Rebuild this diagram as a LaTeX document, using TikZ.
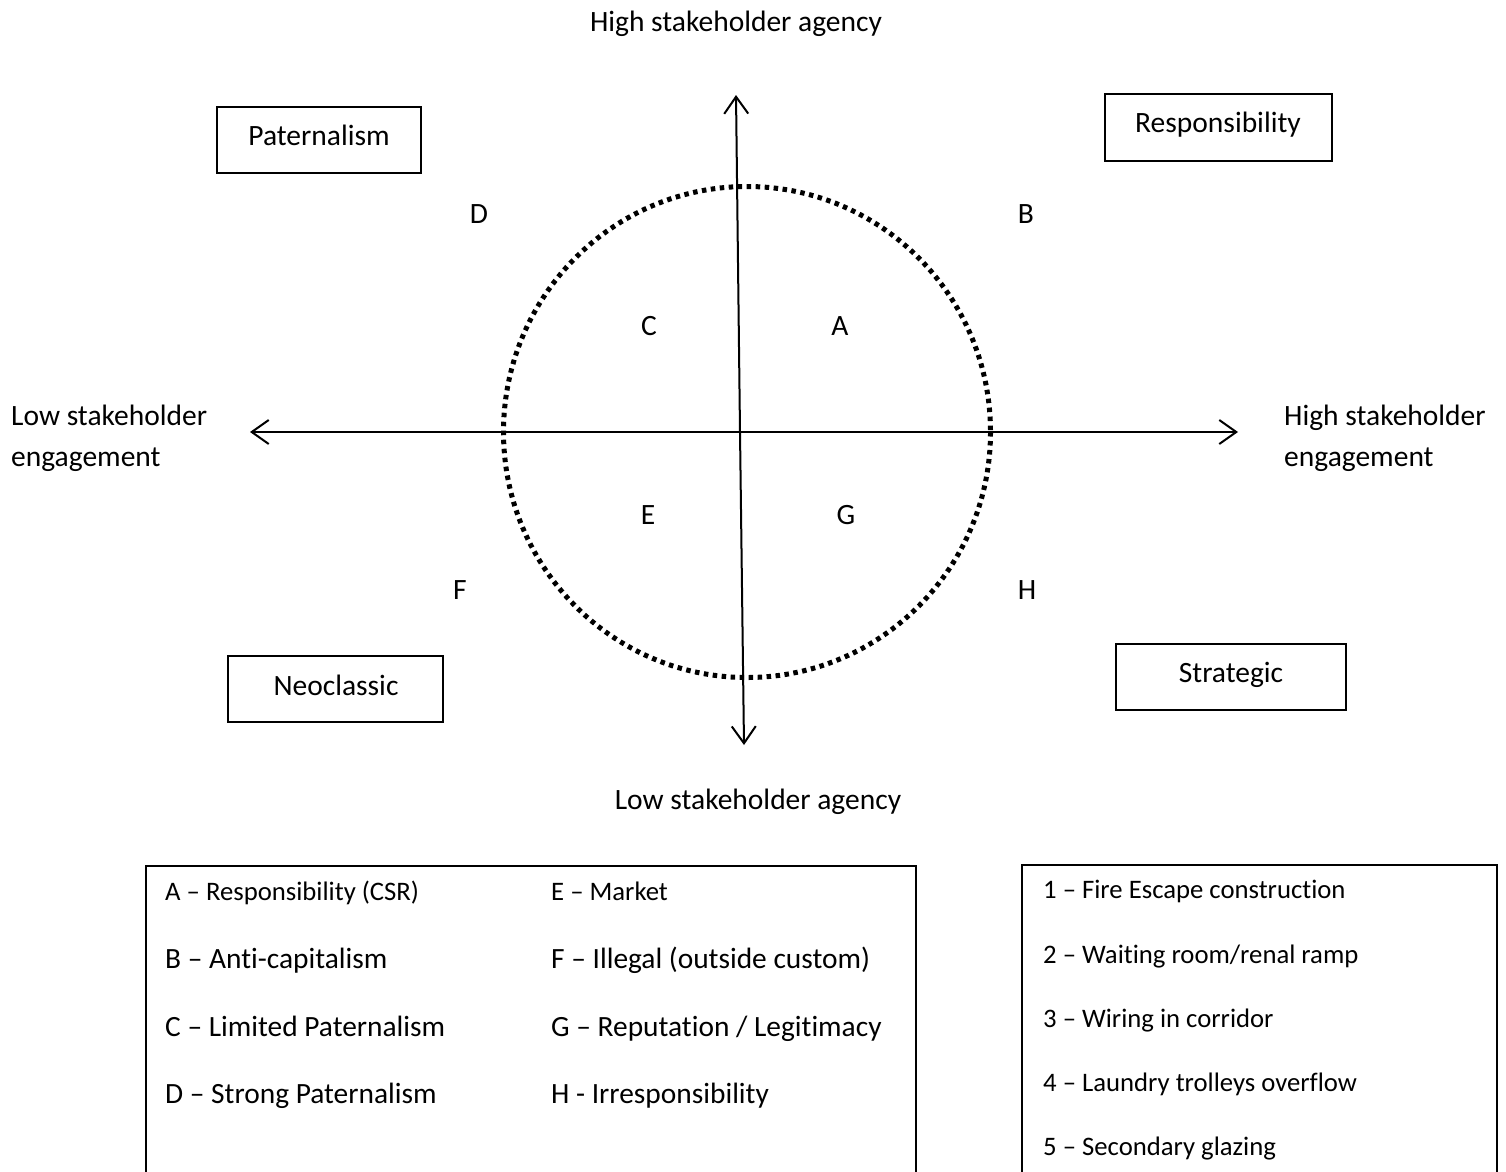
\documentclass[tikz,border=0pt]{standalone}
\usepackage{fontspec}
\setmainfont{Carlito}[Ligatures={NoCommon,NoContextual},Contextuals={NoAlternate}]
\usetikzlibrary{arrows.meta}
\tikzset{
  lbl/.style={font=\fontsize{29.5}{41}\selectfont, inner sep=0pt, text height=0.64em, text depth=0pt, yshift=-6pt},
  lbltwo/.style={font=\fontsize{29.5}{41}\selectfont, inner sep=0pt, anchor=west, align=left},
  lblsm/.style={font=\fontsize{26.7}{32}\selectfont, inner sep=0pt, anchor=west, text height=0.64em, text depth=0pt, yshift=-5pt},
  lblrow/.style={font=\fontsize{29.4}{35}\selectfont, inner sep=0pt, anchor=west, text height=0.64em, text depth=0pt, yshift=-6pt},
  catbox/.style={draw, line width=1.3pt},
  axis/.style={line width=2pt, -{Straight Barb[length=17pt,width=24pt,line width=2pt]}},
}
\begin{document}
\begin{tikzpicture}[x=1pt,y=-1pt]
\clip (0,0) rectangle (1506,1171);
\fill[white] (0,0) rectangle (1506,1171);

% dotted circle
\draw[line width=5pt, dash pattern=on 4.5pt off 4.5pt] (747,432) ellipse [x radius=243.5, y radius=245.5];

% axes
\coordinate (ctop) at (736,95);
\coordinate (cbot) at (744,745);
\coordinate (cleft) at (250,432);
\coordinate (cright) at (1238,432);
\coordinate (cmid) at (740,432);
\draw[axis] (cmid) -- (ctop);
\draw[axis] (cmid) -- (cbot);
\draw[axis] (cmid) -- (cleft);
\draw[axis] (cmid) -- (cright);

% axis labels
\node[lbl] (hsa) at (736,22) {High stakeholder agency};
\node[lbl] (lsa) at (758,800) {Low stakeholder agency};
\node[lbltwo] (lse) at (11,438) {Low stakeholder\\engagement};
\node[lbltwo] (hse) at (1284,438) {High stakeholder\\engagement};

% corner boxes
\draw[catbox] (217,107) rectangle (421,173);
\node[lbl] (pat) at (319,136) {Paternalism};
\draw[catbox] (1105,94) rectangle (1332,161);
\node[lbl] (resp) at (1218,123) {Responsibility};
\draw[catbox] (228,656) rectangle (443,722);
\node[lbl] (neo) at (336,686) {Neoclassic};
\draw[catbox] (1116,644) rectangle (1346,710);
\node[lbl] (strat) at (1231,673) {Strategic};

% letters
\node[lbl] (C) at (649,326) {C};
\node[lbl] (A) at (840,326) {A};
\node[lbl] (E) at (648,515) {E};
\node[lbl] (G) at (846,515) {G};
\node[lbl] (D) at (479,214) {D};
\node[lbl] (B) at (1026,214) {B};
\node[lbl] (F) at (460,590) {F};
\node[lbl] (H) at (1027,590) {H};

% legend boxes
\draw[line width=1.3pt] (146,866) rectangle (916,1190);
\node[lblsm] (la) at (165,892) {A – Responsibility (CSR)};
\node[lblsm] (le) at (551,892) {E – Market};
\node[lblrow] (lb) at (165,959) {B – Anti-capitalism};
\node[lblrow] (lf) at (551,959) {F – Illegal (outside custom)};
\node[lblrow] (lc) at (165,1027) {C – Limited Paternalism};
\node[lblrow] (lg) at (551,1027) {G – Reputation / Legitimacy};
\node[lblrow] (ld) at (165,1094) {D – Strong Paternalism};
\node[lblrow] (lh) at (551,1094) {H - Irresponsibility};

\draw[line width=1.3pt] (1022,865) rectangle (1497,1190);
\node[lblsm] (n1) at (1043,890) {1 – Fire Escape construction};
\node[lblsm] (n2) at (1043,955) {2 – Waiting room/renal ramp};
\node[lblsm] (n3) at (1043,1019) {3 – Wiring in corridor};
\node[lblsm] (n4) at (1043,1083) {4 – Laundry trolleys overflow};
\node[lblsm] (n5) at (1043,1147) {5 – Secondary glazing};
\end{tikzpicture}
\end{document}
